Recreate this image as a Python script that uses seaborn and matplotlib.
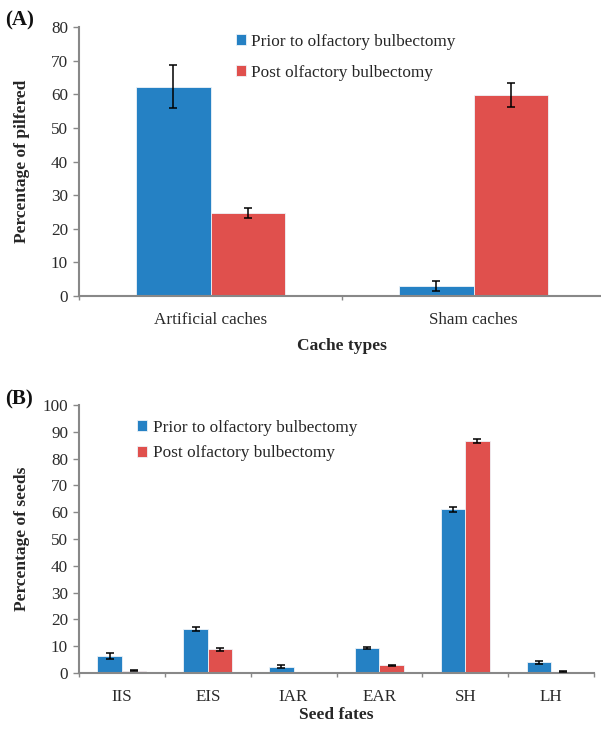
import matplotlib
matplotlib.use("Agg")
import matplotlib.pyplot as plt
import seaborn as sns
import pandas as pd
import numpy as np

# ---- data ----
groups = ["Prior to olfactory bulbectomy", "Post olfactory bulbectomy"]
cache_types = ["Artificial caches", "Sham caches"]
pilfered_prior = [62.3, 3.0]
pilfered_prior_err = [6.3, 1.4]
pilfered_post = [24.8, 59.8]
pilfered_post_err = [1.5, 3.5]

seed_fates = ["IIS", "EIS", "IAR", "EAR", "SH", "LH"]
seeds_prior = [6.4, 16.4, 2.3, 9.3, 61.1, 4.0]
seeds_prior_err = [1.1, 0.7, 0.5, 0.5, 1.0, 0.5]
seeds_post = [0.9, 8.9, 0.0, 2.8, 86.5, 0.5]
seeds_post_err = [0.2, 0.6, 0.0, 0.3, 0.7, 0.2]

colors = ["#2581C4", "#E0504D"]
sns.set_style("white")
plt.rcParams["font.family"] = ["Liberation Serif", "DejaVu Serif"]
plt.rcParams["axes.edgecolor"] = "#888888"

W, H = 601, 730
fig = plt.figure(figsize=(W / 100, H / 100), dpi=100)


def px_axes(l, r, t, b):
    return fig.add_axes([l / W, 1 - b / H, (r - l) / W, (b - t) / H])


def panel(ax, box, cats, prior, prior_e, post, post_e, ymax, ystep, ylabel, xlabel,
          legend_xy, labelspacing, xlabel_top, letter, letter_xy):
    l, r, t, b = box
    df = pd.DataFrame({
        "cat": list(cats) * 2,
        "val": list(prior) + list(post),
        "err": list(prior_e) + list(post_e),
        "grp": [groups[0]] * len(cats) + [groups[1]] * len(cats),
    })
    sns.barplot(data=df, x="cat", y="val", hue="grp", order=cats, hue_order=groups,
                palette=colors, width=0.57, errorbar=None, ax=ax,
                edgecolor="#eef3f8", linewidth=0.6, saturation=1)
    n = len(cats)
    bar_conts = list(ax.containers)[:2]
    for gi, cont in enumerate(bar_conts):
        for ci, bar in enumerate(cont.patches):
            sub = df[(df.grp == groups[gi]) & (df.cat == cats[ci])]
            v, e = sub.val.iloc[0], sub.err.iloc[0]
            if v <= 0:
                continue
            xc = bar.get_x() + bar.get_width() / 2
            ax.errorbar(xc, v, yerr=e, color="black", lw=1.1, capsize=3,
                        capthick=1.1, zorder=5)
    ax.set_xlim(-0.5, n - 0.5)
    ax.set_ylim(0, ymax)
    ax.set_yticks(np.arange(0, ymax + 1, ystep))
    ax.set_xticks(range(n))
    ax.set_xticks(np.arange(-0.5, n, 1.0), minor=True)
    ax.tick_params(axis="x", which="major", length=0, labelsize=12.3, pad=11.5)
    ax.tick_params(axis="x", which="minor", length=3, color="#888888", width=1,
                   bottom=True)
    ax.tick_params(axis="y", length=4.3, color="#888888", width=1, left=True,
                   labelsize=12.3, pad=3.5)
    ax.tick_params(axis="both", labelcolor="#2a2a2a")
    for s in ["top", "right"]:
        ax.spines[s].set_visible(False)
    for s in ["left", "bottom"]:
        ax.spines[s].set_linewidth(1.5)
        ax.spines[s].set_color("#888888")
    ax.set_ylabel(ylabel, fontsize=12.5, fontweight="bold")
    ax.yaxis.set_label_coords((30 - l) / (r - l), 0.5)
    ax.set_xlabel(xlabel, fontsize=12.5, fontweight="bold")
    ax.xaxis.set_label_coords(0.5, (b - xlabel_top) / (b - t))
    ax.legend(loc="upper left", bbox_to_anchor=legend_xy, frameon=False,
              fontsize=12.4, handlelength=0.58, handleheight=0.58,
              handletextpad=0.3, labelspacing=labelspacing, borderaxespad=0)
    fig.text(letter_xy[0] / W, 1 - letter_xy[1] / H, letter, fontsize=15,
             fontweight="bold", ha="left", va="center", color="#111111")


boxA = (79, 605, 27, 296)
axA = px_axes(*boxA)
panel(axA, boxA, cache_types, pilfered_prior, pilfered_prior_err, pilfered_post,
      pilfered_post_err, 80, 10, "Percentage of pilfered", "Cache types",
      (0.285, 1.0), 0.86, 338, "(A)", (5, 20))

boxB = (79, 594, 405, 673)
axB = px_axes(*boxB)
panel(axB, boxB, seed_fates, seeds_prior, seeds_prior_err, seeds_post, seeds_post_err,
      100, 10, "Percentage of seeds", "Seed fates", (0.100, 0.971), 0.56, 707,
      "(B)", (5, 399))

fig.savefig("out.png", dpi=100)
